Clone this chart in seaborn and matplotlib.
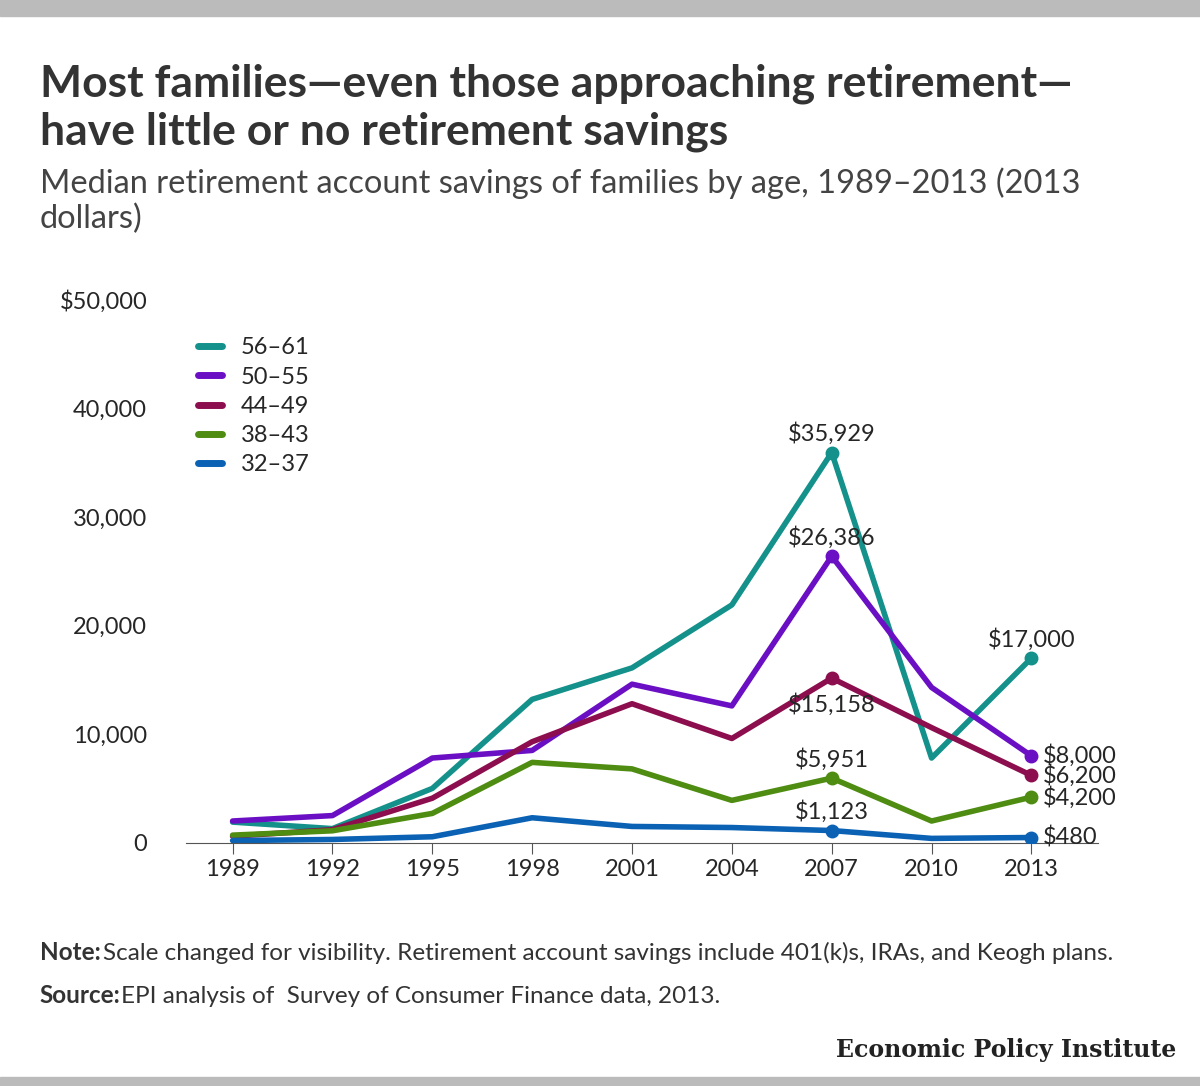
import matplotlib
matplotlib.use("Agg")
import matplotlib.pyplot as plt
import seaborn as sns
import pandas as pd

years = [1989, 1992, 1995, 1998, 2001, 2004, 2007, 2010, 2013]
s56 = [1900, 1300, 5000, 13200, 16100, 21900, 35929, 7800, 17000]
s50 = [2000, 2500, 7800, 8500, 14600, 12600, 26386, 14300, 8000]
s44 = [600, 1200, 4100, 9300, 12800, 9600, 15158, 10600, 6200]
s38 = [700, 1100, 2700, 7400, 6800, 3900, 5951, 2000, 4200]
s32 = [200, 300, 550, 2300, 1500, 1400, 1123, 400, 480]
groups = ["56–61", "50–55", "44–49", "38–43", "32–37"]
colors = ["#13918a", "#6b0fc4", "#8c0e4e", "#4f8c12", "#0b62b4"]
yticks = [0, 10000, 20000, 30000, 40000, 50000]
ylabels = ["0", "10,000", "20,000", "30,000", "40,000", "$50,000"]

rows = []
for g, vals in zip(groups, [s56, s50, s44, s38, s32]):
    for y, v in zip(years, vals):
        rows.append(dict(year=y, value=v, group=g))
df = pd.DataFrame(rows)

sns.set_style("white")
plt.rcParams['font.family'] = ['Lato', 'DejaVu Sans']
fig = plt.figure(figsize=(12, 10.86), dpi=100)
ax = fig.add_axes([0.155, 0.224, 0.76, 0.5])
sns.lineplot(data=df, x="year", y="value", hue="group", hue_order=groups,
             palette=colors, linewidth=4, ax=ax)
ax.set_xlim(1987.6, 2015)
ax.set_ylim(0, 50000)
ax.set_xticks(years)
ax.set_xticklabels([str(y) for y in years], fontsize=17)
ax.set_yticks(yticks)
ax.set_yticklabels(ylabels, fontsize=17)
ax.tick_params(axis='y', length=0, pad=28)
ax.tick_params(axis='x', length=8, color='#555', direction='out', bottom=True, pad=4)
for s in ["top", "right", "left"]:
    ax.spines[s].set_visible(False)
ax.spines["bottom"].set_color("#555")
ax.set_xlabel(""); ax.set_ylabel("")

ann = {0: [(2007, 35929, "$35,929", 0, 700), (2013, 17000, "$17,000", 0, 700)],
       1: [(2007, 26386, "$26,386", 0, 700), (2013, 8000, "$8,000", 1, 0)],
       2: [(2007, 15158, "$15,158", 0, -3500), (2013, 6200, "$6,200", 1, 0)],
       3: [(2007, 5951, "$5,951", 0, 700), (2013, 4200, "$4,200", 1, 0)],
       4: [(2007, 1123, "$1,123", 0, 700), (2013, 480, "$480", 1, 0)]}
for i, items in ann.items():
    for x, y, t, side, dy in items:
        ax.plot(x, y, 'o', color=colors[i], markersize=9, zorder=5)
        if side == 0:
            ax.text(x, y + dy, t, ha='center', va='bottom', fontsize=17)
        else:
            ax.text(x + 0.35, y, t, ha='left', va='center', fontsize=17)

leg = ax.legend(loc='upper left', bbox_to_anchor=(-0.01, 0.97), frameon=False,
                fontsize=17, handlelength=1.0, labelspacing=0.35)
for l in leg.get_lines():
    l.set_linewidth(5)

fig.patches.append(plt.Rectangle((0, 0.985), 1, 0.015, transform=fig.transFigure, color='#bbbbbb'))
fig.patches.append(plt.Rectangle((0, 0), 1, 0.008, transform=fig.transFigure, color='#bbbbbb'))
fig.text(0.033, 0.911, "Most families—even those approaching retirement—", fontsize=32, fontweight='bold', color='#333')
fig.text(0.033, 0.867, "have little or no retirement savings", fontsize=32, fontweight='bold', color='#333')
fig.text(0.033, 0.822, "Median retirement account savings of families by age, 1989–2013 (2013", fontsize=23.5, color='#444')
fig.text(0.033, 0.790, "dollars)", fontsize=23.5, color='#444')
t = fig.text(0.033, 0.116, "Note:", fontsize=17.5, fontweight='bold', color='#333')
fig.text(0.086, 0.116, "Scale changed for visibility. Retirement account savings include 401(k)s, IRAs, and Keogh plans.", fontsize=17.5, color='#333')
fig.text(0.033, 0.076, "Source:", fontsize=17.5, fontweight='bold', color='#333')
fig.text(0.101, 0.076, "EPI analysis of  Survey of Consumer Finance data, 2013.", fontsize=17.5, color='#333')
fig.text(0.98, 0.027, "Economic Policy Institute", fontsize=17, fontweight='bold', family='DejaVu Serif', ha='right', color='#222')
fig.savefig("out.png", dpi=100)
